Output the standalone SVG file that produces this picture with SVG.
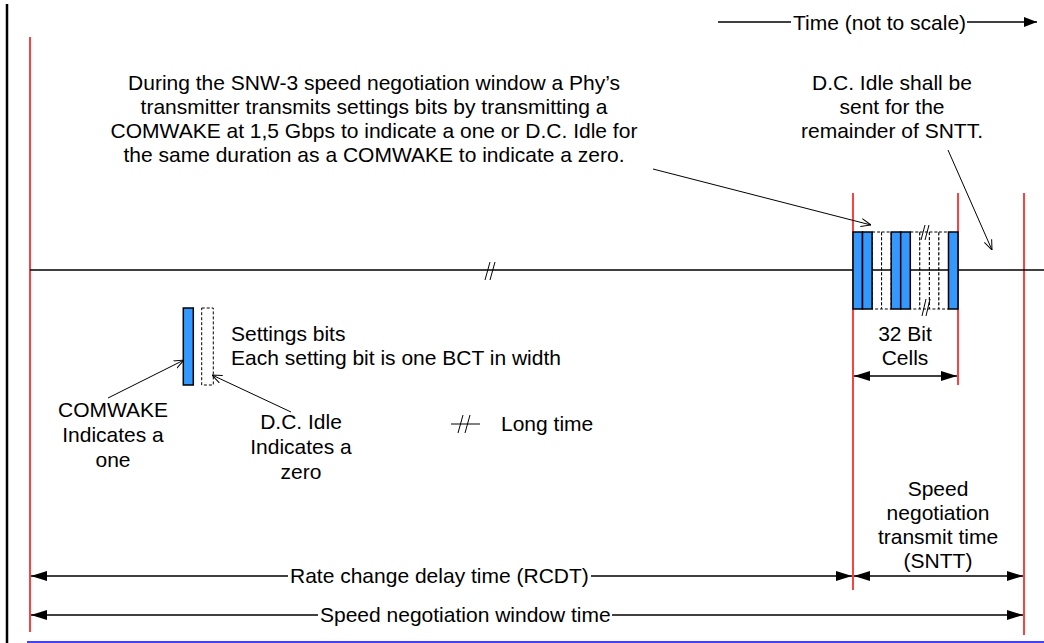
<svg xmlns="http://www.w3.org/2000/svg" width="1044" height="643" viewBox="0 0 1044 643">
<style>
text{font-family:"Liberation Sans",Arial,sans-serif;font-size:21px;fill:#000}
.c{text-anchor:middle}
.red{stroke:#ff0000;stroke-width:1.5;fill:none}
.ln{stroke:#000;stroke-width:1.5;fill:none}
.thin{stroke:#000;stroke-width:1;fill:none}
.blue{fill:#3399ff;stroke:#000;stroke-width:1.5}
.idle{fill:#fff;stroke:#000;stroke-width:1;stroke-dasharray:3 2}
</style>
<defs>
<marker id="fa" viewBox="0 0 16 10" refX="16" refY="5" markerWidth="16" markerHeight="10" markerUnits="userSpaceOnUse" orient="auto-start-reverse"><path d="M0,0 L16,5 L0,10 z" fill="#000"/></marker>
<marker id="ta" viewBox="0 0 13 10" refX="13" refY="5" markerWidth="13" markerHeight="10" markerUnits="userSpaceOnUse" orient="auto"><path d="M0,0 L13,5 L0,10 z" fill="#000"/></marker>
<marker id="oa" viewBox="0 0 10 10" refX="10" refY="5" markerWidth="10" markerHeight="10" markerUnits="userSpaceOnUse" orient="auto"><path d="M0,1 L10,5 L0,9" fill="none" stroke="#000" stroke-width="1"/></marker>
</defs>
<rect width="1044" height="643" fill="#fff"/>
<g id="frame">
<line x1="7" y1="4" x2="7" y2="643" stroke="#000" stroke-width="2.5"/>
<line x1="27" y1="642" x2="1044" y2="642" stroke="#0000ff" stroke-width="1.5"/>
</g>
<g id="markers">
<line class="red" x1="30" y1="37" x2="30" y2="632"/>
<line class="red" x1="853" y1="193" x2="853" y2="590"/>
<line class="red" x1="958" y1="193" x2="958" y2="385"/>
<line class="red" x1="1024" y1="193" x2="1024" y2="635"/>
</g>
<g id="timeline">
<line class="ln" x1="30" y1="270" x2="1044" y2="270"/>
<line class="thin" x1="485" y1="280" x2="490" y2="262"/>
<line class="thin" x1="490" y1="280" x2="495" y2="262"/>
</g>
<g id="bitcells">
<rect class="idle" x="872.1" y="232" width="9.5" height="77"/>
<rect class="idle" x="881.6" y="232" width="9.6" height="77"/>
<rect class="idle" x="910.3" y="232" width="9.5" height="77"/>
<rect class="idle" x="919.8" y="232" width="9.6" height="77"/>
<rect class="idle" x="929.4" y="232" width="9.5" height="77"/>
<rect class="idle" x="938.9" y="232" width="9.6" height="77"/>
<line class="ln" x1="872" y1="270" x2="949" y2="270"/>
<rect class="blue" x="853" y="232" width="9.5" height="77"/>
<rect class="blue" x="862.5" y="232" width="9.6" height="77"/>
<rect class="blue" x="891.2" y="232" width="9.5" height="77"/>
<rect class="blue" x="900.7" y="232" width="9.6" height="77"/>
<rect class="blue" x="948.5" y="232" width="9.5" height="77"/>
<line class="thin" x1="921" y1="240" x2="925" y2="225"/>
<line class="thin" x1="925" y1="240" x2="929" y2="225"/>
<line class="thin" x1="922" y1="316" x2="926" y2="299"/>
<line class="thin" x1="926" y1="316" x2="930" y2="299"/>
</g>
<g id="legend">
<rect class="blue" x="183.3" y="308" width="10" height="77"/>
<rect class="idle" x="201.7" y="308" width="11.6" height="77"/>
<text x="231" y="341">Settings bits</text>
<text x="231" y="365">Each setting bit is one BCT in width</text>
<line class="thin" x1="451" y1="424" x2="480" y2="424"/>
<line class="thin" x1="458" y1="433" x2="463" y2="415"/>
<line class="thin" x1="465" y1="433" x2="470" y2="415"/>
<text x="501" y="431">Long time</text>
</g>
<g id="comwake-label">
<text class="c" x="113" y="417">COMWAKE</text>
<text class="c" x="113" y="442">Indicates a</text>
<text class="c" x="113" y="467">one</text>
</g>
<g id="dcidle-label">
<text class="c" x="301" y="429">D.C. Idle</text>
<text class="c" x="301" y="454">Indicates a</text>
<text class="c" x="301" y="479">zero</text>
</g>
<g id="note-main">
<text class="c" x="374" y="90">During the SNW-3 speed negotiation window a Phy’s</text>
<text class="c" x="374" y="114">transmitter transmits settings bits by transmitting a</text>
<text class="c" x="374" y="138">COMWAKE at 1,5 Gbps to indicate a one or D.C. Idle for</text>
<text class="c" x="374" y="162">the same duration as a COMWAKE to indicate a zero.</text>
</g>
<g id="note-idle">
<text class="c" x="892" y="90">D.C. Idle shall be</text>
<text class="c" x="892" y="114">sent for the</text>
<text class="c" x="892" y="138">remainder of SNTT.</text>
</g>
<g id="cells-label">
<text class="c" x="905" y="341">32 Bit</text>
<text class="c" x="905" y="365">Cells</text>
</g>
<g id="sntt-label">
<text class="c" x="938" y="496">Speed</text>
<text class="c" x="938" y="520">negotiation</text>
<text class="c" x="938" y="544">transmit time</text>
<text class="c" x="938" y="568">(SNTT)</text>
</g>
<g id="time-label">
<text x="793" y="30">Time (not to scale)</text>
</g>
<g id="connectors">
<line class="thin" x1="108" y1="398" x2="184" y2="360" marker-end="url(#oa)"/>
<line class="thin" x1="291" y1="412" x2="212" y2="375" marker-end="url(#oa)"/>
<line class="thin" x1="653" y1="169" x2="871" y2="225" marker-end="url(#oa)"/>
<line class="thin" x1="948" y1="150" x2="992" y2="250" marker-end="url(#oa)"/>
<line class="ln" x1="718" y1="22" x2="791" y2="22"/>
<line class="ln" x1="967" y1="22" x2="1037" y2="22" marker-end="url(#ta)"/>
<line class="ln" x1="854" y1="376" x2="957" y2="376" marker-start="url(#fa)" marker-end="url(#fa)"/>
<line class="ln" x1="31" y1="576" x2="288" y2="576" marker-start="url(#fa)"/>
<line class="ln" x1="591" y1="576" x2="852" y2="576" marker-end="url(#fa)"/>
<line class="ln" x1="854" y1="576" x2="1023" y2="576" marker-start="url(#fa)" marker-end="url(#fa)"/>
<line class="ln" x1="31" y1="615" x2="318" y2="615" marker-start="url(#fa)"/>
<line class="ln" x1="612" y1="615" x2="1023" y2="615" marker-end="url(#fa)"/>
<text x="290" y="583">Rate change delay time (RCDT)</text>
<text x="320" y="622">Speed negotiation window time</text>
</g>
</svg>
